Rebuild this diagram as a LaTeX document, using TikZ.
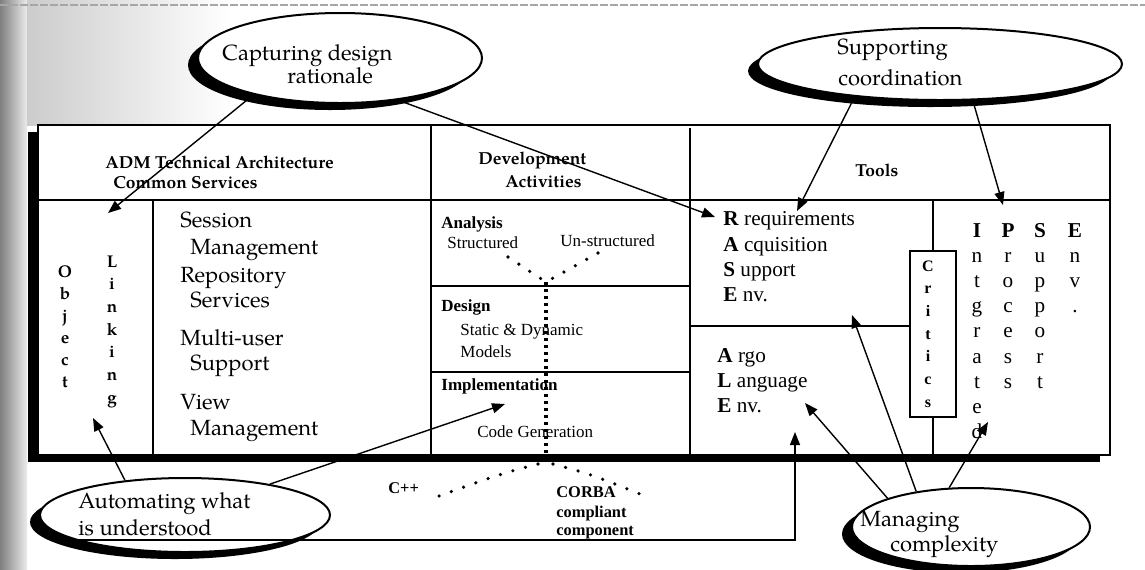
\documentclass[tikz,border=0pt]{standalone}
\usepackage{fontspec}
\setmainfont{Liberation Serif}
\newfontfamily\pal{TeX Gyre Pagella}
\usetikzlibrary{shapes.geometric,shadows,arrows.meta}

\begin{document}
\begin{tikzpicture}[x=0.5pt,y=-0.5pt,
  frameline/.style={line width=1pt},
  cell/.style={line width=0.75pt},
  arr/.style={line width=0.7pt,-{Triangle[length=6.5pt,width=5pt]}},
  bubble/.style={ellipse,draw,line width=1pt,fill=white,inner sep=0pt,
    general shadow={fill=black,shadow xshift=-5pt,shadow yshift=-3.5pt}},
  lbl/.style={anchor=base west,inner sep=0pt},
  cl/.style={anchor=base,inner sep=0pt},
  pal11/.style={font=\pal\fontsize{11}{13}\selectfont},
  hdr/.style={font=\pal\bfseries\fontsize{8.7}{10}\selectfont},
  dev/.style={font=\fontsize{8.5}{10}\selectfont},
  devb/.style={font=\bfseries\fontsize{8.5}{10}\selectfont},
  tm/.style={font=\fontsize{10.6}{12}\selectfont},
  tmb/.style={font=\bfseries\fontsize{10.6}{12}\selectfont},
  objl/.style={font=\pal\bfseries\fontsize{8.5}{10}\selectfont},
  crit/.style={font=\bfseries\fontsize{8}{10}\selectfont},
  cb/.style={font=\bfseries\fontsize{8.2}{10}\selectfont},
  dotline/.style={line width=1.8pt,line cap=round,dash pattern=on 0pt off 6.5pt},
  densedots/.style={line width=1.7pt,line cap=butt,dash pattern=on 1.7pt off 1.8pt}]

\useasboundingbox (0,0) rectangle (1145,569);
\fill[white] (0,0) rectangle (1145,569);

% grainy margin of the sheet
\shade[left color=black!50,right color=black!8] (0,0) rectangle (27,569);
\shade[left color=black!20,right color=white] (27,0) rectangle (230,125);
\draw[black!35,line width=0.6pt,dash pattern=on 4pt off 1pt] (0,5) -- (1145,5);

% main frame with its drop shadow
\fill[black] (28,132) rectangle (1100,462);
\draw[frameline,fill=white] (38,125) rectangle (1110,455);

% grid of the table
\draw[cell] (38,200) -- (1110,200);
\draw[cell] (153,200) -- (153,455);
\draw[cell] (431,125) -- (431,455);
\draw[cell] (690,128) -- (690,455);
\draw[cell] (933,200) -- (933,455);
\draw[cell] (431,286) -- (690,286);
\draw[cell] (431,372) -- (690,372);
\draw[cell] (690,326) -- (910,326);
\draw[cell,fill=white] (910,251) rectangle (956,417);

% column headers
\node[lbl,hdr] (h1) at (105,168) {ADM Technical Architecture};
\node[lbl,hdr] (h2) at (113,188) {Common Services};
\node[lbl,hdr] (h3) at (478,164) {Development};
\node[lbl,hdr] (h4) at (505,187) {Activities};
\node[lbl,hdr] (h5) at (855,176) {Tools};

% vertical words of the first column
\foreach \c [count=\i from 0] in {O,b,j,e,c,t}
  \node[cl,objl] (obj\i) at (65,{277+22*\i}) {\c};
\foreach \c [count=\i from 0] in {L,i,n,k,i,n,g}
  \node[cl,objl] (lnk\i) at (112,{267+22.7*\i}) {\c};

% common services
\node[lbl,pal11] (s1) at (180,227) {Session};
\node[lbl,pal11] (s2) at (190,254) {Management};
\node[lbl,pal11] (s3) at (180,282) {Repository};
\node[lbl,pal11] (s4) at (190,307) {Services};
\node[lbl,pal11] (s5) at (180,345) {Multi-user};
\node[lbl,pal11] (s6) at (190,370) {Support};
\node[lbl,pal11] (s7) at (180,409) {View};
\node[lbl,pal11] (s8) at (190,435) {Management};

% development activities
\node[lbl,devb] (an) at (441,228) {Analysis};
\node[lbl,dev] (st) at (447,248) {Structured};
\node[lbl,dev] (ust) at (560,246) {Un-structured};
\node[lbl,devb] (de) at (441,311) {Design};
\node[lbl,dev] (sd) at (460,335) {Static \& Dynamic};
\node[lbl,dev] (mo) at (460,357) {Models};
\node[lbl,devb] (im) at (441,390) {Implementation};
\node[lbl,dev] (cg) at (477,437) {Code Generation};

% flow of the activities
\coordinate (dS) at (508,257);
\coordinate (dU) at (598,253);
\coordinate (jn) at (546,282);
\coordinate (jb) at (546,453);
\coordinate (jl) at (538,464);
\coordinate (jr) at (553,464);
\coordinate (dC) at (428,500);
\coordinate (dK) at (640,494);
\draw[dotline] (dS) -- (jn);
\draw[dotline] (dU) -- (jn);
\draw[densedots] (jn) -- (jb);
\draw[dotline] (jl) .. controls (500,474) .. (dC);
\draw[dotline] (jr) .. controls (590,474) .. (dK);

\node[lbl,cb] (cpp) at (388,493) {C++};
\node[lbl,cb] (co1) at (556,497) {CORBA};
\node[lbl,cb] (co2) at (556,517) {compliant};
\node[lbl,cb] (co3) at (556,535) {component};

% tools
\node[lbl,tm] (r1) at (723,225) {\textbf{R} requirements};
\node[lbl,tm] (r2) at (723,251) {\textbf{A} cquisition};
\node[lbl,tm] (r3) at (723,276) {\textbf{S} upport};
\node[lbl,tm] (r4) at (723,301) {\textbf{E} nv.};
\node[lbl,tm] (a1) at (717,362) {\textbf{A} rgo};
\node[lbl,tm] (a2) at (717,387) {\textbf{L} anguage};
\node[lbl,tm] (a3) at (717,412) {\textbf{E} nv.};

\foreach \c [count=\i from 0] in {C,r,i,t,i,c,s}
  \node[cl,crit] (cr\i) at (928,{271+22.7*\i}) {\c};

\node[cl,tmb] (iI0) at (977,237) {I};
\foreach \c [count=\i] in {n,t,g,r,a,t,e,d}
  \node[cl,tm] (iI\i) at (977,{237+25.2*\i}) {\c};
\node[cl,tmb] (iP0) at (1008,237) {P};
\foreach \c [count=\i] in {r,o,c,e,s,s}
  \node[cl,tm] (iP\i) at (1008,{237+25.2*\i}) {\c};
\node[cl,tmb] (iS0) at (1040,237) {S};
\foreach \c [count=\i] in {u,p,p,o,r,t}
  \node[cl,tm] (iS\i) at (1040,{237+25.2*\i}) {\c};
\node[cl,tmb] (iE0) at (1075,237) {E};
\foreach \c [count=\i] in {n,v,.}
  \node[cl,tm] (iE\i) at (1075,{237+25.2*\i}) {\c};

% bubbles
\node[bubble,minimum width=142pt,minimum height=45pt] (capt) at (340,58) {};
\node[bubble,minimum width=182pt,minimum height=36pt] (supp) at (940,64) {};
\node[bubble,minimum width=145pt,minimum height=37pt] (auto) at (185,515) {};
\node[bubble,minimum width=119pt,minimum height=39pt] (mng) at (971,527) {};

\node[lbl,pal11] (capt1) at (222,60) {Capturing design};
\node[lbl,pal11] (capt2) at (287,83) {rationale};
\node[lbl,pal11] (supp1) at (837,54) {Supporting};
\node[lbl,pal11] (supp2) at (838,85) {coordination};
\node[lbl,pal11] (auto1) at (78,508) {Automating what};
\node[lbl,pal11] (auto2) at (78,535) {is understood};
\node[lbl,pal11] (mng1) at (860,526) {Managing};
\node[lbl,pal11] (mng2) at (890,551) {complexity};

% arrow targets
\coordinate (tObj) at (108,213);
\coordinate (tR) at (715,217);
\coordinate (tRq) at (797,211);
\coordinate (tIP) at (1003,205);
\coordinate (tLink) at (93,418);
\coordinate (tImp) at (505,404);
\coordinate (ul) at (78,540);
\coordinate (ulc) at (795,540);
\coordinate (tALEb) at (795,432);
\coordinate (tALE) at (805,403);
\coordinate (tRASE) at (852,315);
\coordinate (tInt) at (988,422);

% arrows
\draw[arr] (capt.-157) -- (tObj);
\draw[arr] (capt.-36) -- (tR);
\draw[arr] (supp.-159) -- (tRq);
\draw[arr] (supp.-48) -- (tIP);
\draw[arr] (auto.150) -- (tLink);
\draw[arr] (auto.20) -- (tImp);
\draw[arr] (ul) -- (ulc) -- (tALEb);
\draw[arr] (mng.161) -- (tALE);
\draw[arr] (mng.147) -- (tRASE);
\draw[arr] (mng.119) -- (tInt);
\end{tikzpicture}
\end{document}
